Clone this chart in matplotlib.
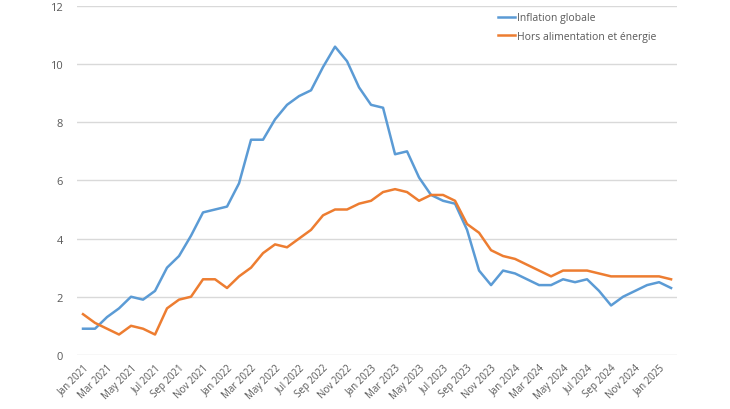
import numpy as np
import matplotlib.pyplot as plt
import pandas as pd

# monthly data, Jan 2021 - Feb 2025
months = pd.date_range("2021-01-01", "2025-02-01", freq="MS")
month_labels = [d.strftime("%b %Y") for d in months]

inflation_globale = [
    0.9, 0.9, 1.3, 1.6, 2.0, 1.9, 2.2, 3.0, 3.4, 4.1, 4.9, 5.0,
    5.1, 5.9, 7.4, 7.4, 8.1, 8.6, 8.9, 9.1, 9.9, 10.6, 10.1, 9.2,
    8.6, 8.5, 6.9, 7.0, 6.1, 5.5, 5.3, 5.2, 4.3, 2.9, 2.4, 2.9,
    2.8, 2.6, 2.4, 2.4, 2.6, 2.5, 2.6, 2.2, 1.7, 2.0, 2.2, 2.4,
    2.5, 2.3,
]
hors_alim_energie = [
    1.4, 1.1, 0.9, 0.7, 1.0, 0.9, 0.7, 1.6, 1.9, 2.0, 2.6, 2.6,
    2.3, 2.7, 3.0, 3.5, 3.8, 3.7, 4.0, 4.3, 4.8, 5.0, 5.0, 5.2,
    5.3, 5.6, 5.7, 5.6, 5.3, 5.5, 5.5, 5.3, 4.5, 4.2, 3.6, 3.4,
    3.3, 3.1, 2.9, 2.7, 2.9, 2.9, 2.9, 2.8, 2.7, 2.7, 2.7, 2.7,
    2.7, 2.6,
]

plt.rcParams['font.family'] = ['Open Sans', 'DejaVu Sans']

fig = plt.figure(figsize=(7.3, 4.1), dpi=100)
ax = fig.add_axes([0.1055, 0.132, 0.822, 0.851])

x = np.arange(len(months))
ax.plot(x, inflation_globale, color='#5B9BD5', lw=1.8, label='Inflation globale')
ax.plot(x, hors_alim_energie, color='#ED7D31', lw=1.8, label='Hors alimentation et énergie')

ax.set_xlim(-0.5, len(months) - 0.5)
ax.set_ylim(0, 12)
ax.set_yticks(np.arange(0, 13, 2))
ax.yaxis.grid(True, color='#D9D9D9', lw=1)
ax.set_axisbelow(True)
for s in ax.spines.values():
    s.set_visible(False)

ax.set_xticks(x[::2])
ax.set_xticklabels(month_labels[::2], rotation=45, ha='right',
                   rotation_mode='anchor', fontsize=7, color='#595959')
ax.tick_params(axis='x', length=0, pad=5)
ax.tick_params(axis='y', length=0, pad=10, labelsize=8, labelcolor='#595959')

ax.legend(loc='upper left', bbox_to_anchor=(0.670, 0.99), bbox_transform=fig.transFigure,
          frameon=False, fontsize=7.5, handlelength=1.6, handletextpad=0.2,
          labelspacing=0.7, labelcolor='#595959')

fig.savefig("out.png", dpi=100)
